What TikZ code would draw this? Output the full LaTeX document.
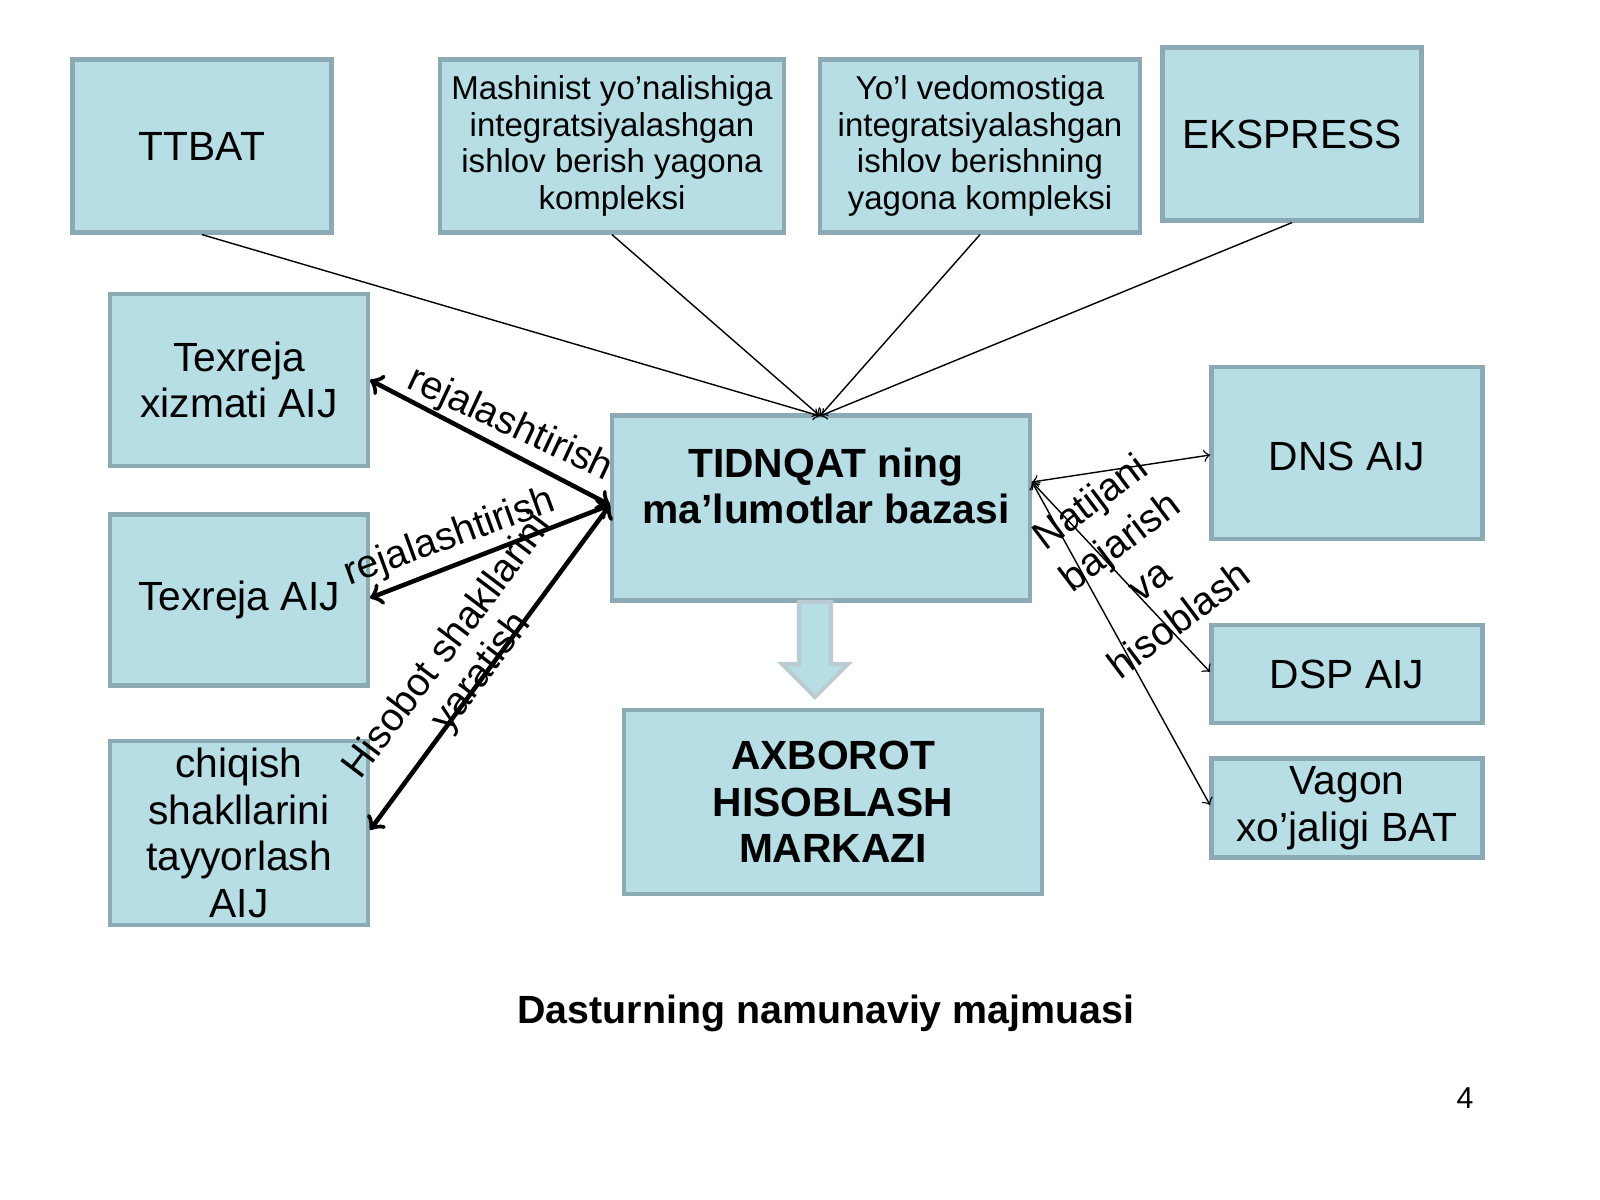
\documentclass[tikz,border=0pt]{standalone}
\usepackage{fontspec}
\setmainfont{Liberation Sans}
\usetikzlibrary{arrows}
\definecolor{boxfill}{RGB}{183,221,229}
\definecolor{boxline}{RGB}{140,170,180}
\begin{document}
\begin{tikzpicture}[x=0.1mm,y=-0.1mm,>=to,
  box/.style={draw=boxline,line width=1.2pt,fill=boxfill,align=center,inner sep=2pt},
  small/.style={font=\fontsize{9.4}{10.5}\selectfont},
  big/.style={font=\fontsize{11.6}{13.3}\selectfont},
  bigb/.style={font=\fontsize{11.6}{13.3}\selectfont\bfseries},
  lbl/.style={font=\fontsize{11.2}{12}\selectfont,align=center,inner sep=0pt}]
  \useasboundingbox (0,0) rectangle (1600,1200);
  % top row
  \node[box,big,minimum width=25.9mm,minimum height=17.3mm] (ttbat) at (202,146) {TTBAT};
  \node[box,small,minimum width=34.4mm,minimum height=17.3mm] (mash) at (612,146) {Mashinist yo’nalishiga\\integratsiyalashgan\\ishlov berish yagona\\kompleksi};
  \node[box,small,minimum width=32mm,minimum height=17.3mm] (yol) at (980,146) {Yo’l vedomostiga\\integratsiyalashgan\\ishlov berishning\\yagona kompleksi};
  \node[box,big,minimum width=25.9mm,minimum height=17.3mm] (eks) at (1292,134) {EKSPRESS};
  % left column
  \node[box,big,minimum width=25.8mm,minimum height=17.2mm] (txiz) at (239,380) {Texreja\\xizmati AIJ};
  \node[box,big,minimum width=25.8mm,minimum height=17.1mm] (taij) at (239,600) {Texreja AIJ};
  \node[box,big,minimum width=25.8mm,minimum height=17.3mm] (chiq) at (239,833) {chiqish\\shakllarini\\tayyorlash\\AIJ};
  % centre
  \node[box,minimum width=41.8mm,minimum height=18.5mm] (baza) at (821,508) {};
  \node[bigb,align=center] (bazat) at (826,486) {TIDNQAT ning\\ma’lumotlar bazasi};
  \node[box,bigb,minimum width=41.8mm,minimum height=18.4mm] (axb) at (833,802) {AXBOROT\\HISOBLASH\\MARKAZI};
  % right column
  \node[box,minimum width=27.1mm,minimum height=17.2mm] (dns) at (1347,453) {};
  \node[big] (dnst) at (1347,456) {DNS AIJ};
  \node[box,big,minimum width=27.1mm,minimum height=9.8mm] (dsp) at (1347,674) {DSP AIJ};
  \node[box,big,minimum width=27.1mm,minimum height=9.9mm] (vag) at (1347,808) {Vagon\\xo’jaligi BAT};
  % junction points
  \coordinate (in) at (820,416);
  \coordinate (lj) at (610,505);
  \coordinate (rj) at (1032,482);
  % inputs
  \path[->,thin] (ttbat.south) edge (in);
  \path[->,thin] (mash.south) edge (in);
  \path[->,thin] (yol.south) edge (in);
  \path[->,thin] (eks.south) edge (in);
  % left links
  \path[<->,line width=1.3pt] (lj) edge (370,380) (lj) edge (370,598) (lj) edge (370,830);
  \node[lbl,rotate=-25] (l1) at (510,425) {rejalashtirish};
  \node[lbl,rotate=20] (l2) at (450,538) {rejalashtirish};
  \node[lbl,rotate=53] (l3) at (465,660) {Hisobot shakllarini\\yaratish};
  % right links
  \path[<->,thin] (rj) edge (1210,455) (rj) edge (1210,672) (rj) edge (1210,805);
  \node[lbl,rotate=37,font=\fontsize{11.2}{14}\selectfont] (l4) at (1134,560) {Natijani\\bajarish\\va\\hisoblash};
  % output arrow
  \draw[draw=boxline!60,fill=boxfill,line width=1.2pt] (799,602) -- (831,602) -- (831,664) -- (848,664) -- (815,697) -- (782,664) -- (799,664) -- cycle;
  \node[font=\fontsize{11.2}{12}\selectfont\bfseries] (title) at (826,1013) {Dasturning namunaviy majmuasi};
  \node[font=\fontsize{8.6}{10}\selectfont] (num) at (1465,1098) {4};
\end{tikzpicture}
\end{document}
